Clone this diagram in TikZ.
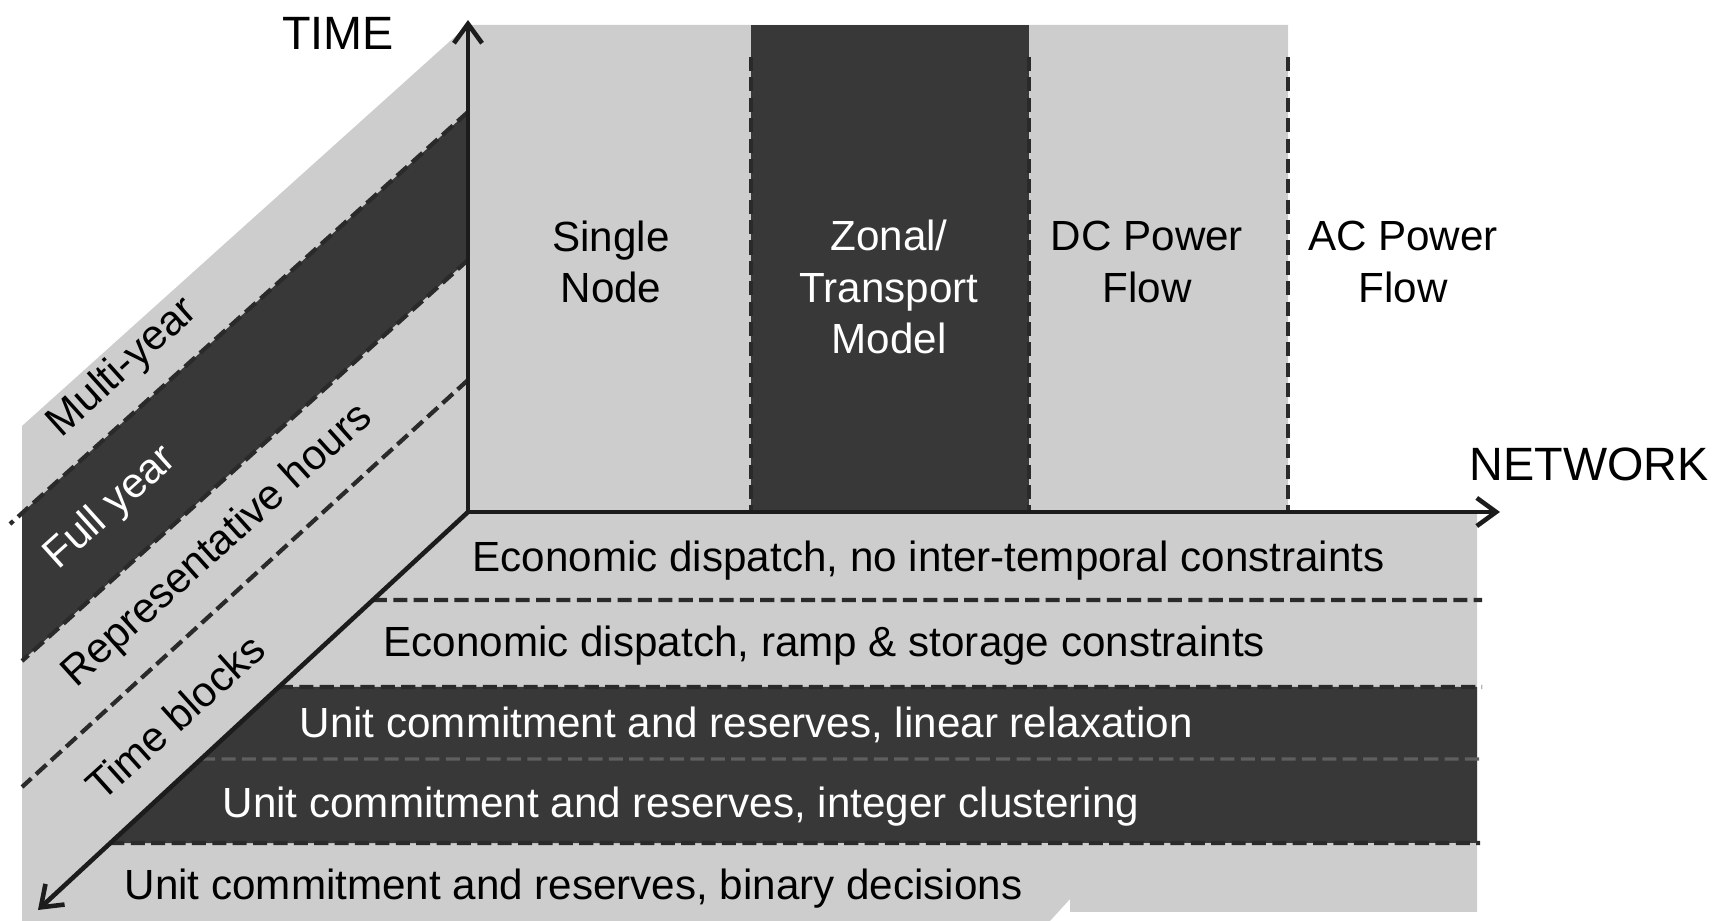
\documentclass[tikz,border=0pt]{standalone}
\usepackage{fontspec}
\setmainfont{Liberation Sans}
\usetikzlibrary{arrows.meta,calc}

\definecolor{planelight}{HTML}{CDCDCD}
\definecolor{planedark}{HTML}{383838}
\definecolor{edgeink}{HTML}{2A2A2A}
\definecolor{axisink}{HTML}{1C1C1C}

\begin{document}
\begin{tikzpicture}[x=0.1mm,y=-0.1mm,
  axisarrow/.style={draw=axisink, line width=1.3pt,
    -{Straight Barb[length=5.5pt,width=8pt,line width=1.3pt]}},
  divider/.style={draw=edgeink, line width=1.2pt, dash pattern=on 4pt off 1.8pt},
  faintdivider/.style={draw=gray!55!planedark, line width=0.9pt, dash pattern=on 4pt off 1.8pt},
  lbl/.style={font=\fontsize{12}{14.6}\selectfont, align=center, inner sep=0pt},
  lbldark/.style={lbl, text=white},
  rowlbl/.style={lbl, anchor=base west},
  rowlbldark/.style={rowlbl, text=white},
  axislbl/.style={font=\fontsize{13.3}{16}\selectfont, inner sep=0pt}]

\useasboundingbox (0,0) rectangle (1721,921);

% axis end points
\coordinate (O) at (468,512);
\coordinate (Ttip) at (468,20);
\coordinate (Ntip) at (1500,512);
\coordinate (Dtip) at (38,910);

% points where the floor rows meet the depth axis
\coordinate (D600) at ($(O)!0.2211!(Dtip)$);
\coordinate (D687) at ($(O)!0.4397!(Dtip)$);
\coordinate (D759) at ($(O)!0.6206!(Dtip)$);
\coordinate (D843) at ($(O)!0.8317!(Dtip)$);

% light grey body: time plane, network plane and floor
\fill[planelight] (22,426) -- (468,25) -- (1288,25) -- (1288,512)
  -- (1477,512) -- (1477,912) -- (1070,912) -- (1070,899) -- (1050,921)
  -- (22,921) -- cycle;

% dark bands
\fill[planedark] (751,25) rectangle (1029,512);
\fill[planedark] (468,112) -- (468,260) -- (22,661) -- (22,513) -- cycle;
\fill[planedark] (D687) -- (1477,687) -- (1477,843) -- (D843) -- cycle;

% column dividers
\draw[divider] (751,57) -- (751,512);
\draw[divider] (1029,57) -- (1029,512);
\draw[divider] (1288,57) -- (1288,512);

% time band dividers
\draw[divider] (468,112) -- (10,524);
\draw[divider] (468,260) -- (22,661);
\draw[divider] (468,380) -- (22,787);

% floor row dividers
\draw[divider] (D600) -- (1482,600);
\draw[divider] (D687) -- (1482,687);
\draw[faintdivider] (D759) -- (1482,759);
\draw[divider] (D843) -- (1480,843);

% axes
\draw[axisarrow] (O) -- (Ttip);
\draw[axisarrow] (O) -- (Ntip);
\draw[axisarrow] (O) -- (Dtip);

% axis titles
\node[axislbl] (timeLabel) at (338,33) {TIME};
\node[axislbl] (networkLabel) at (1589,464) {NETWORK};

% network columns
\node[lbl] (singleNode) at (611,262) {Single\\Node};
\node[lbldark] (zonalModel) at (889,287) {Zonal/\\Transport\\Model};
\node[lbl] (dcFlow) at (1147,262) {DC Power\\Flow};
\node[lbl] (acFlow) at (1403,262) {AC Power\\Flow};

% time bands
\node[lbl, rotate=42] (multiYear) at (123,368) {Multi-year};
\node[lbldark, rotate=42] (fullYear) at (111,508) {Full year};
\node[lbl, rotate=42] (repHours) at (218,546) {Representative hours};
\node[lbl, rotate=42] (timeBlocks) at (175,717) {Time blocks};

% operational detail rows
\node[rowlbl] (edPlain) at (472,572) {Economic dispatch, no inter-temporal constraints};
\node[rowlbl] (edRamp) at (383,657) {Economic dispatch, ramp \& storage constraints};
\node[rowlbldark] (ucLinear) at (299,738) {Unit commitment and reserves, linear relaxation};
\node[rowlbldark] (ucCluster) at (222,818) {Unit commitment and reserves, integer clustering};
\node[rowlbl] (ucBinary) at (124,900) {Unit commitment and reserves, binary decisions};

\end{tikzpicture}
\end{document}
